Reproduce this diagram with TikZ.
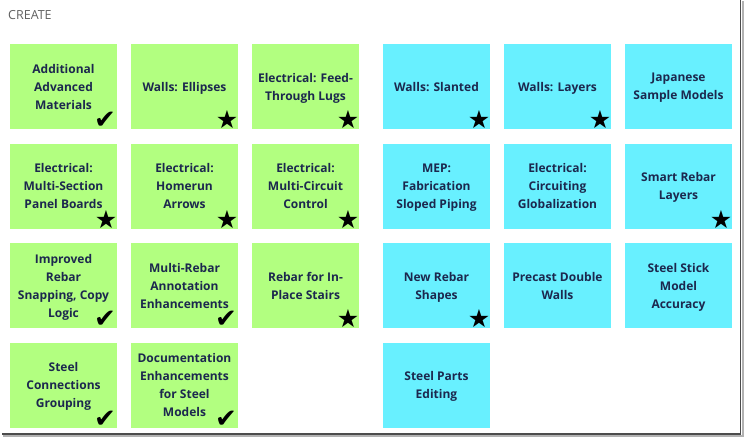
\documentclass[tikz,border=0pt]{standalone}
\usepackage{fontspec}
\setmainfont{Open Sans}
\newfontfamily\symfont{DejaVu Sans}
\usepackage{tikz}
\usetikzlibrary{positioning}

\definecolor{tilegreen}{RGB}{178,255,128}
\definecolor{tilecyan}{RGB}{104,240,255}
\definecolor{tiletext}{RGB}{28,40,78}
\definecolor{headgray}{RGB}{96,96,96}

\begin{document}
\begin{tikzpicture}[
    node distance=14.5pt and 14pt,
    tile/.style={rectangle, minimum width=107pt, minimum height=85pt,
        inner sep=0pt, outer sep=0pt, align=center, text=tiletext,
        text depth=-3pt,
        font=\bfseries\fontsize{12}{18}\selectfont},
    greentile/.style={tile, fill=tilegreen},
    cyantile/.style={tile, fill=tilecyan},
    tick/.style={inner sep=0pt, font=\symfont\fontsize{26}{26}\selectfont},
    star/.style={inner sep=0pt, font=\symfont\fontsize{25}{25}\selectfont}
]
\useasboundingbox (0,0) rectangle (744pt,-439pt);

% frame shadow
\draw[line width=2pt, gray!60] (742.5pt,-1pt) -- (742.5pt,-436pt) -- (3pt,-436pt);
\draw[line width=1.3pt, black!70] (740.5pt,0pt) -- (740.5pt,-434pt) -- (2pt,-434pt);

\node[anchor=west, text=headgray, inner sep=0pt, font=\fontsize{12.5}{14}\selectfont] (head) at (8pt,-15pt) {CREATE};

% green tiles
\node[greentile, anchor=north west] (A1) at (10pt,-44pt) {Additional\\Advanced\\Materials};
\node[greentile] (B1) [right=of A1] {Walls: Ellipses};
\node[greentile] (C1) [right=of B1] {Electrical: Feed-\\Through Lugs};
\node[greentile] (A2) [below=of A1] {Electrical:\\Multi-Section\\Panel Boards};
\node[greentile] (B2) [right=of A2] {Electrical:\\Homerun\\Arrows};
\node[greentile] (C2) [right=of B2] {Electrical:\\Multi-Circuit\\Control};
\node[greentile] (A3) [below=of A2] {Improved\\Rebar\\Snapping, Copy\\Logic};
\node[greentile] (B3) [right=of A3] {Multi-Rebar\\Annotation\\Enhancements};
\node[greentile] (C3) [right=of B3] {Rebar for In-\\Place Stairs};
\node[greentile] (A4) [below=of A3] {Steel\\Connections\\Grouping};
\node[greentile] (B4) [right=of A4] {Documentation\\Enhancements\\for Steel\\Models};

% cyan tiles
\node[cyantile] (D1) [right=24pt of C1] {Walls: Slanted};
\node[cyantile] (E1) [right=of D1] {Walls: Layers};
\node[cyantile] (F1) [right=of E1] {Japanese\\Sample Models};
\node[cyantile] (D2) [below=of D1] {MEP:\\Fabrication\\Sloped Piping};
\node[cyantile] (E2) [right=of D2] {Electrical:\\Circuiting\\Globalization};
\node[cyantile] (F2) [right=of E2] {Smart Rebar\\Layers};
\node[cyantile] (D3) [below=of D2] {New Rebar\\Shapes};
\node[cyantile] (E3) [right=of D3] {Precast Double\\Walls};
\node[cyantile] (F3) [right=of E3] {Steel Stick\\Model\\Accuracy};
\node[cyantile] (D4) [below=of D3] {Steel Parts\\Editing};

% done marks
\foreach \t in {A1,A3,B3,A4,B4}
  \node[tick] (\t tick) at ([shift={(-12pt,8.5pt)}]\t.south east) {✔};
\foreach \t in {B1,C1,A2,B2,C2,C3,D1,E1,F2,D3}
  \node[star] (\t star) at ([shift={(-11pt,9pt)}]\t.south east) {★};
\end{tikzpicture}
\end{document}
